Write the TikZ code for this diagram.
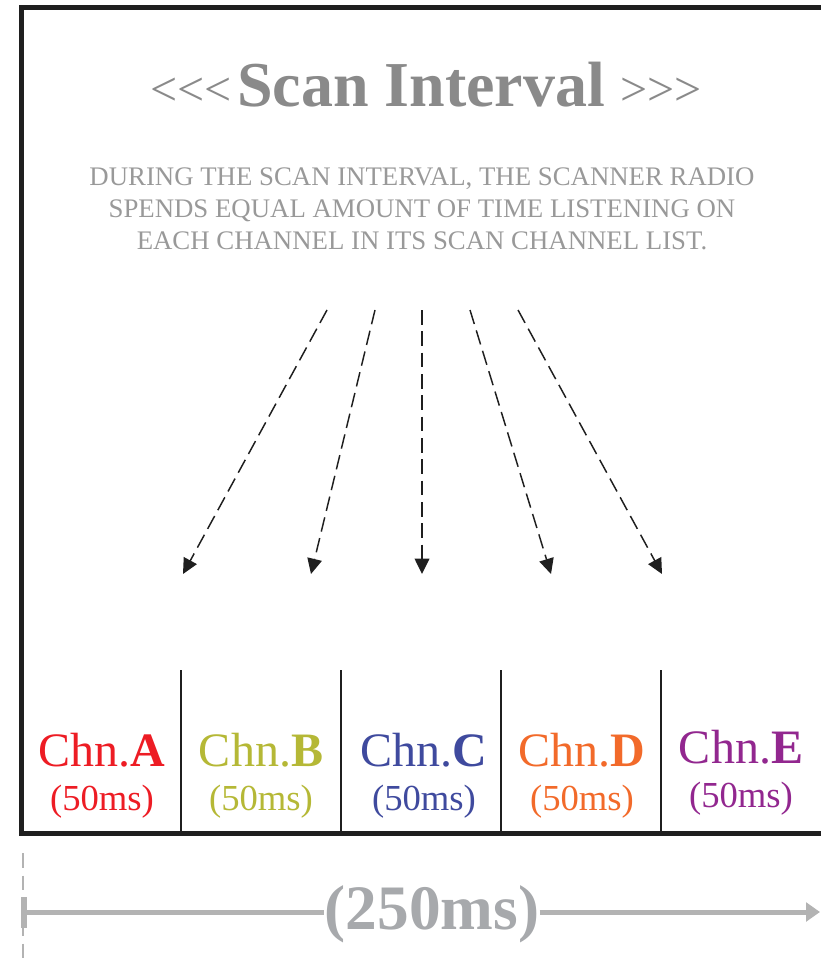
\documentclass[tikz,border=0pt]{standalone}
\usepackage{fontspec}
\setmainfont{Liberation Serif}
\usetikzlibrary{arrows.meta}
\definecolor{titlegray}{HTML}{8A8A8A}
\definecolor{bodygray}{HTML}{999999}
\definecolor{spangray}{HTML}{A7A9AC}
\definecolor{linegray}{HTML}{B3B3B3}
\definecolor{chnA}{HTML}{ED1C24}
\definecolor{chnB}{HTML}{B5B836}
\definecolor{chnC}{HTML}{3F4A9E}
\definecolor{chnD}{HTML}{F26A2A}
\definecolor{chnE}{HTML}{92278F}
\newcommand{\lesslist}{<\kern0pt<\kern0pt<}
\newcommand{\morelist}{>\kern0pt>\kern0pt>}
\tikzset{
  frame/.style={line width=3.75pt, draw=black!88},
  divider/.style={line width=1.5pt, draw=black!88},
  scanarrow/.style={line width=1.1pt, draw=black!88, dash pattern=on 11pt off 5pt,
    -{Triangle[length=11.5pt,width=11pt]}},
  chnlabel/.style={anchor=base, font=\fontsize{36}{40}\selectfont, inner sep=0pt},
  durlabel/.style={anchor=base, font=\fontsize{27.5}{30}\selectfont, inner sep=0pt},
  descline/.style={anchor=base, inner sep=0pt, text=bodygray, font=\fontsize{20.1}{24}\selectfont},
  chevrons/.style={inner sep=0pt, text=titlegray, font=\fontsize{36}{40}\selectfont},
  span/.style={line width=3.75pt, draw=linegray},
}
\begin{document}
\begin{tikzpicture}[x=0.75pt,y=-0.75pt]
\useasboundingbox (0,0) rectangle (820,966);

% outer frame
\draw[frame] (21.5,8) rectangle (823,833);

% title with chevrons on both sides
\node[anchor=base, inner sep=0pt, text=titlegray, font=\fontsize{48}{50}\selectfont\bfseries] (title) at (421,107) {Scan Interval};
\node[chevrons, anchor=base east] (lt) at (232,106) {\lesslist};
\node[chevrons, anchor=base west] (gt) at (620,106) {\morelist};

% description
\node[descline] (desc1) at (422,186) {DURING THE SCAN INTERVAL, THE SCANNER RADIO};
\node[descline] (desc2) at (422,218) {SPENDS EQUAL AMOUNT OF TIME LISTENING ON};
\node[descline] (desc3) at (422,249) {EACH CHANNEL IN ITS SCAN CHANNEL LIST.};

% dashed arrows towards the channels
\coordinate (s1) at (327,310); \coordinate (e1) at (183,574);
\coordinate (s2) at (375,310); \coordinate (e2) at (311,574);
\coordinate (s3) at (422,310); \coordinate (e3) at (422,574);
\coordinate (s4) at (470,310); \coordinate (e4) at (551,574);
\coordinate (s5) at (518,310); \coordinate (e5) at (662,574);
\foreach \i in {1,...,5} \draw[scanarrow] (s\i) -- (e\i);

% channel cells
\foreach \x in {181,341,501,661} \draw[divider] (\x,670) -- (\x,831);

\node[chnlabel, text=chnA] (cA) at (102,766) {Chn.\textbf{A}};
\node[chnlabel, text=chnB] (cB) at (261,766) {Chn.\textbf{B}};
\node[chnlabel, text=chnC] (cC) at (424,766) {Chn.\textbf{C}};
\node[chnlabel, text=chnD] (cD) at (582,766) {Chn.\textbf{D}};
\node[chnlabel, text=chnE] (cE) at (741,763) {Chn.\textbf{E}};

\node[durlabel, text=chnA] (dA) at (102,810) {(50ms)};
\node[durlabel, text=chnB] (dB) at (261,810) {(50ms)};
\node[durlabel, text=chnC] (dC) at (424,810) {(50ms)};
\node[durlabel, text=chnD] (dD) at (582,810) {(50ms)};
\node[durlabel, text=chnE] (dE) at (741,807) {(50ms)};

% total span
\draw[line width=1.5pt, draw=linegray, dash pattern=on 11pt off 6pt] (23,853) -- (23,966);
\draw[line width=4.5pt, draw=linegray] (23.5,897) -- (23.5,928);
\coordinate (spanL) at (23,912);
\coordinate (spanR) at (820,912);
\node[anchor=base, inner sep=0pt, text=spangray, font=\fontsize{47.5}{50}\selectfont\bfseries] (total) at (432,929) {(250ms)};
\draw[span] (spanL) -- (total.west |- spanL);
\draw[span, -{Triangle[length=10.5pt,width=14pt]}] (total.east |- spanR) -- (spanR);
\end{tikzpicture}
\end{document}
